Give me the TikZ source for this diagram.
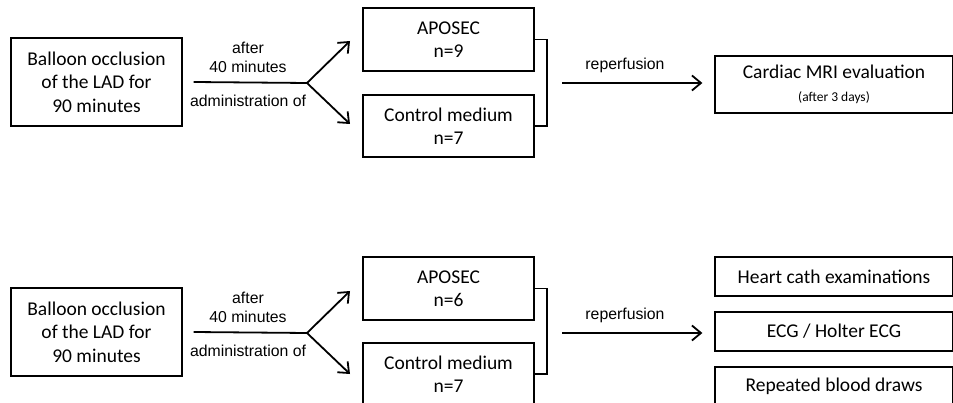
\documentclass[tikz,border=0pt]{standalone}
\usepackage{fontspec}
\setmainfont{Carlito}
\newfontfamily\labelfont{Liberation Sans}
\usetikzlibrary{arrows.meta}

\tikzset{
	box/.style={rectangle, draw=black, line width=1.3pt, align=center, inner sep=0pt, font=\fontsize{19.5}{23.5}\selectfont},
	lbl/.style={align=center, inner sep=0pt, font=\labelfont\fontsize{15.8}{19}\selectfont},
	link/.style={line width=1.8pt},
	flow/.style={link, -{Straight Barb[length=9pt, width=15pt]}},
}

\begin{document}
\begin{tikzpicture}[x=1pt, y=-1pt]
		
		\clip (0,0) rectangle (953,403);
		
		% First study
		\node[box, minimum width=171pt, minimum height=88pt] (occ1) at (96.5,82) {Balloon occlusion\\of the LAD for\\90 minutes};
		\coordinate (fork1) at (307,83);
		\coordinate (up1) at (350,41);
		\coordinate (dn1) at (350,124);
		\node[lbl] (after1) at (248,57.5) {after\\40 minutes};
		\node[lbl] (adm1) at (248,101) {administration of};
		\node[box, minimum width=171pt, minimum height=63pt] (apo1) at (448.5,39.5) {APOSEC\\n=9};
		\node[box, minimum width=171pt, minimum height=62pt] (ctl1) at (448.5,126) {Control medium\\n=7};
		\coordinate (rep1s) at (562,83);
		\node[lbl] (rep1) at (625,65) {reperfusion};
		\node[box, minimum width=238pt, minimum height=57pt] (mri1) at (834,84.5) {Cardiac MRI evaluation\\{\fontsize{13.5}{16}\selectfont (after 3 days)}};
		
		% Second study
		\node[box, minimum width=171pt, minimum height=88pt] (occ2) at (96.5,332) {Balloon occlusion\\of the LAD for\\90 minutes};
		\coordinate (fork2) at (307,333);
		\coordinate (up2) at (350,291);
		\coordinate (dn2) at (350,374);
		\node[lbl] (after2) at (248,307.5) {after\\40 minutes};
		\node[lbl] (adm2) at (248,351) {administration of};
		\node[box, minimum width=171pt, minimum height=63pt] (apo2) at (448.5,288.5) {APOSEC\\n=6};
		\node[box, minimum width=171pt, minimum height=62pt] (ctl2) at (448.5,374) {Control medium\\n=7};
		\coordinate (rep2s) at (562,333);
		\node[lbl] (rep2) at (625,315) {reperfusion};
		\node[box, minimum width=238pt, minimum height=39pt] (cath) at (834,276.5) {Heart cath examinations};
		\node[box, minimum width=238pt, minimum height=39pt] (ecg) at (834,331.5) {ECG / Holter ECG};
		\node[box, minimum width=238pt, minimum height=39pt] (blood) at (834,386.5) {Repeated blood draws};
		
		% Connect
		\draw[link] ([xshift=11pt]occ1.east) -- (fork1);
		\draw[flow] (fork1) -- (up1);
		\draw[flow] (fork1) -- (dn1);
		\draw[link] (apo1.east) -- ++(12,0) |- (ctl1.east);
		\draw[flow] (rep1s) -- ([xshift=-12pt]mri1.west |- rep1s);
		
		\draw[link] ([xshift=11pt]occ2.east) -- (fork2);
		\draw[flow] (fork2) -- (up2);
		\draw[flow] (fork2) -- (dn2);
		\draw[link] (apo2.east) -- ++(12,0) |- (ctl2.east);
		\draw[flow] (rep2s) -- ([xshift=-12pt]ecg.west |- rep2s);
		
	\end{tikzpicture}
\end{document}
